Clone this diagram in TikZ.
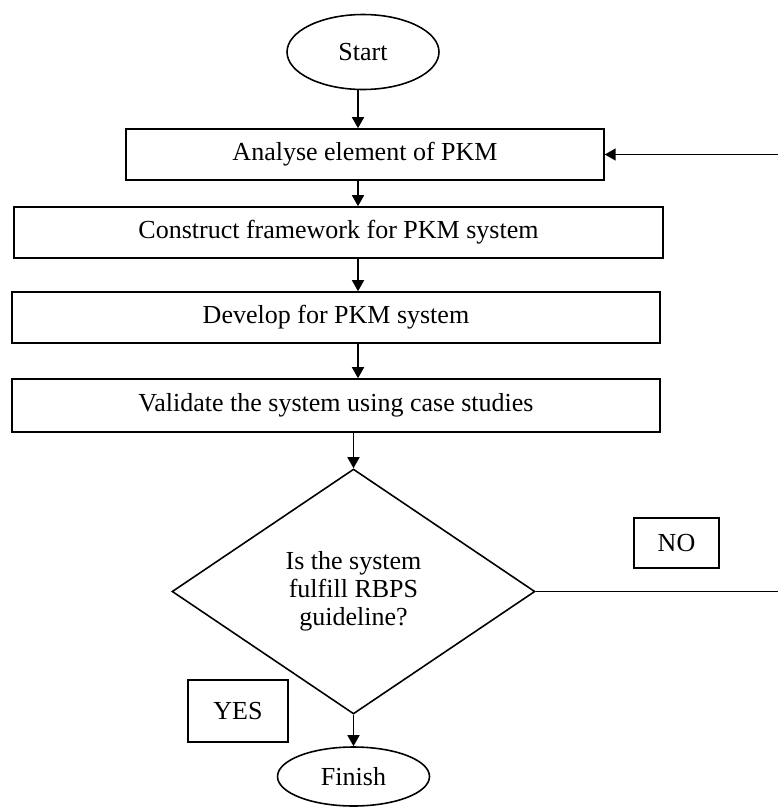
\documentclass[tikz,border=0pt]{standalone}
\usepackage{fontspec}
\setmainfont{Liberation Serif}
\usepackage{tikz}
\usetikzlibrary{shapes.geometric, arrows.meta, calc}

\begin{document}
\begin{tikzpicture}[
  x=0.02cm, y=-0.02cm,
  base/.style={draw=black, line width=0.9pt, inner sep=2pt, align=center, font=\fontsize{14.8}{15.9}\selectfont},
  terminal/.style={base, ellipse, minimum width=3.04cm},
  stepbox/.style={base, rectangle, minimum height=1.02cm},
  decide/.style={base, diamond, minimum width=7.26cm, minimum height=4.9cm, inner sep=0pt},
  tag/.style={base, rectangle},
  arrow/.style={-{Triangle[length=2.2mm, width=2.4mm]}, line width=0.9pt},
  line/.style={line width=0.9pt}
]
  \useasboundingbox (0,0) rectangle (778,812);

  % Start and steps
  \node[terminal, minimum height=1.5cm] (start) at (363,52) {Start};
  \node[stepbox, minimum width=9.56cm] (analyse) at (365,154.5) {Analyse element of PKM};
  \node[stepbox, minimum width=12.98cm] (construct) at (338.5,232.5) {Construct framework for PKM system};
  \node[stepbox, minimum width=12.96cm] (develop) at (336,317.5) {Develop for PKM system};
  \node[stepbox, minimum width=12.96cm, minimum height=1.06cm] (validate) at (336,405.5) {Validate the system using case studies};

  % Decision
  \node[decide] (check) at (353.5,591.5) {Is the system\\fulfill RBPS\\guideline?};
  \node[tag, minimum width=1.7cm, minimum height=1cm] (no) at (676.5,543) {NO};
  \node[tag, minimum width=2cm, minimum height=1.24cm] (yes) at (238,711) {YES};
  \node[terminal, minimum height=1.18cm] (finish) at (353.5,776.5) {Finish};

  % Loop back ends
  \coordinate (axis) at (358,0);
  \coordinate (loopin) at (778,154.5);
  \coordinate (loopout) at (778,591.5);

  \draw[arrow] (axis |- start.south) -- (axis |- analyse.north);
  \draw[arrow] (axis |- analyse.south) -- (axis |- construct.north);
  \draw[arrow] (axis |- construct.south) -- (axis |- develop.north);
  \draw[arrow] (axis |- develop.south) -- (axis |- validate.north);
  \draw[arrow] (check.north |- validate.south) -- (check.north);
  \draw[arrow] (check.south) -- (finish.north);
  \draw[line] (check.east) -- (loopout);
  \draw[arrow] (loopin) -- (analyse.east);
\end{tikzpicture}
\end{document}
